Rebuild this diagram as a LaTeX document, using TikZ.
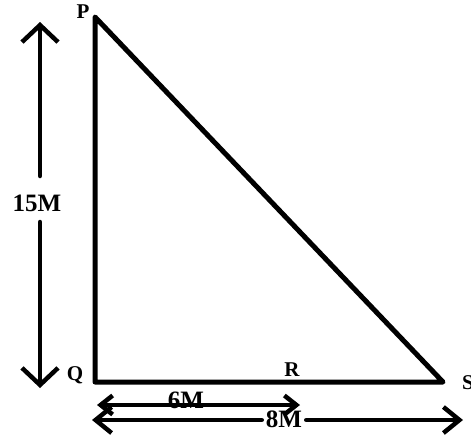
\documentclass[tikz,border=0pt]{standalone}
\usepackage{fontspec}
\setmainfont{Liberation Serif}
\usetikzlibrary{arrows.meta}
\begin{document}
\begin{tikzpicture}[x=1pt,y=-1pt,
  edge/.style={line width=5pt,line cap=round,line join=round},
  dim/.style={line width=4.5pt,line cap=round,line join=round},
  vhead/.style={-{Straight Barb[length=17pt,width=36pt]}},
  shead/.style={-{Straight Barb[length=12pt,width=19pt]}},
  hhead/.style={-{Straight Barb[length=16pt,width=26pt]}},
  lbl/.style={font=\fontsize{21}{21}\selectfont\bfseries,inner sep=0pt},
  dlbl/.style={font=\fontsize{25}{25}\selectfont\bfseries,inner sep=0pt}]
\useasboundingbox[fill=white] (0,0) rectangle (471,439);
% triangle
\coordinate (P) at (95,17);
\coordinate (Q) at (95,382);
\coordinate (S) at (443,382);
\draw[edge] (P) -- (Q) -- (S) -- cycle;
% vertex labels
\node[lbl] (lP) at (83,12) {P};
\node[lbl] (lQ) at (75,375) {Q};
\node[lbl] (lR) at (292,370) {R};
\node[lbl,anchor=west] (lS) at (462,383) {S};
% vertical dimension 15M
\node[dlbl] (h) at (37,203) {15M};
\coordinate (vt) at (40,22);
\coordinate (vb) at (40,388);
\coordinate (vg1) at (40,176);
\coordinate (vg2) at (40,222);
\draw[dim,vhead] (vg1) -- (vt);
\draw[dim,vhead] (vg2) -- (vb);
% 6M dimension
\node[dlbl] (six) at (186,400) {6M};
\coordinate (a6l) at (97,405);
\coordinate (a6r) at (300,405);
\draw[dim,shead] (186,405) -- (a6l);
\draw[dim,shead] (186,405) -- (a6r);
% 8M dimension
\node[dlbl] (eight) at (284,419) {8M};
\coordinate (a8l) at (92,420);
\coordinate (a8r) at (463,420);
\draw[dim,hhead] (eight.west) ++(-4,1) -- (a8l);
\draw[dim,hhead] (eight.east) ++(4,1) -- (a8r);
\end{tikzpicture}
\end{document}
